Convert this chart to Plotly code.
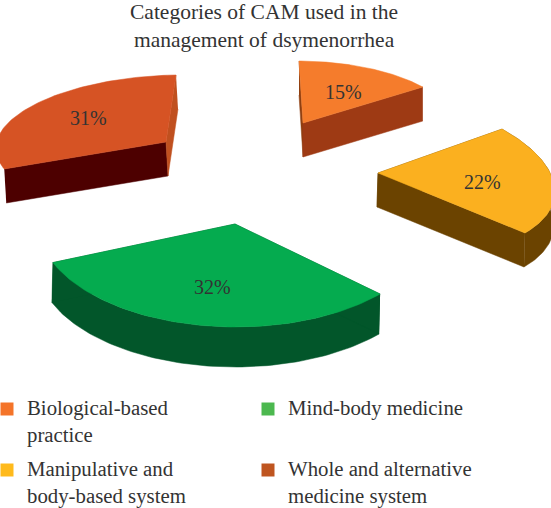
import numpy as np
import plotly.graph_objects as go

# ---- data ----
categories = ["Biological-based practice", "Manipulative and body-based system",
              "Mind-body medicine", "Whole and alternative medicine system"]
percent = [15, 22, 32, 31]
legend_labels = ["Biological-based<br>practice", "Manipulative and<br>body-based system",
                 "Mind-body medicine", "Whole and alternative<br>medicine system"]
title_text = "Categories of CAM used in the<br>management of dsymenorrhea"

# ---- styles ----
top_colors = ["#F57C2C", "#FBB01F", "#05AB4F", "#D65324"]
side_colors = ["#9E3A14", "#6B4300", "#02562A", "#4D0000"]
lead_colors = ["#8F3F10", "#6B4300", "#02562A", "#4D0000"]
trail_colors = ["#9E3A14", "#6B4300", "#02562A", "#C0501F"]
legend_colors = ["#F47429", "#FFBA1C", "#4CB84F", "#BF5520"]
FONT = "Liberation Serif"
INK = "#333333"

# ---- projection of each exploded slice: hub, 12 o'clock vector, 3 o'clock vector, depth ----
hubs = [(303, 123), (378, 173), (235, 224), (166, 142)]
vec_a = [(-4, -62), (-29, -82), (-2.4, -103), (10, -67)]
vec_b = [(151, 0.6), (174.4, 5.3), (196.8, -0.7), (170, -2.5)]
depth = [(0, 34), (-1, 34), (-1, 40), (2, 34)]
rim_visible = [False, True, True, False]
label_pos = [(343, 92), (482, 182), (212, 287), (88, 118)]
legend_pos = [(7, 409), (7, 470), (268, 409), (268, 470)]
legend_text_pos = [(25, 393.5), (25, 454.5), (286, 393.5), (286, 454.5)]

fig = go.Figure()


def poly(xs, ys, color):
    fig.add_trace(go.Scatter(x=xs, y=ys, mode="lines", fill="toself", fillcolor=color,
                             line=dict(color=color, width=0.5), hoverinfo="skip", showlegend=False))


edges = np.cumsum([0] + percent) / sum(percent) * 2 * np.pi
order = [0, 3, 1, 2]
for i in order:
    th = np.linspace(edges[i], edges[i + 1], 80)
    hx, hy = hubs[i]
    ax, ay = vec_a[i]
    bx, by = vec_b[i]
    dx, dy = depth[i]
    rim_x = hx + ax * np.cos(th) + bx * np.sin(th)
    rim_y = hy + ay * np.cos(th) + by * np.sin(th)
    # outer rim band, only where it faces the viewer
    if rim_visible[i]:
        poly(np.r_[rim_x, rim_x[::-1] + dx], np.r_[rim_y, rim_y[::-1] + dy], side_colors[i])
    # cut faces
    poly([rim_x[0], hx, hx + dx, rim_x[0] + dx], [rim_y[0], hy, hy + dy, rim_y[0] + dy], lead_colors[i])
    poly([rim_x[-1], hx, hx + dx, rim_x[-1] + dx], [rim_y[-1], hy, hy + dy, rim_y[-1] + dy], trail_colors[i])
    # top
    poly(np.r_[hx, rim_x, hx], np.r_[hy, rim_y, hy], top_colors[i])

# legend swatches
fig.add_trace(go.Scatter(x=[p[0] for p in legend_pos], y=[p[1] for p in legend_pos], mode="markers",
                         marker=dict(symbol="square", size=13, color=legend_colors),
                         hoverinfo="skip", showlegend=False))

ann = [dict(x=264 / 551, y=1, xref="paper", yref="paper", yshift=2, text=title_text, showarrow=False,
            xanchor="center", yanchor="top", align="center",
            font=dict(family=FONT, size=21.5, color=INK))]
for p, v in zip(label_pos, percent):
    ann.append(dict(x=p[0], y=p[1], xref="x", yref="y", text=f"{v}%", showarrow=False,
                    font=dict(family=FONT, size=20, color=INK)))
for p, t in zip(legend_text_pos, legend_labels):
    ann.append(dict(x=p[0], y=p[1], xref="x", yref="y", text=t, showarrow=False, xanchor="left",
                    yanchor="top", align="left", font=dict(family=FONT, size=20.8, color=INK)))

fig.update_layout(width=551, height=508, margin=dict(l=0, r=0, t=0, b=0), paper_bgcolor="white",
                  plot_bgcolor="white", annotations=ann,
                  xaxis=dict(range=[0, 551], visible=False, fixedrange=True),
                  yaxis=dict(range=[508, 0], visible=False, fixedrange=True))
fig.write_html("out.html", config=dict(displayModeBar=False),
               post_script="document.body.style.margin='0';document.documentElement.style.overflow='hidden';")
